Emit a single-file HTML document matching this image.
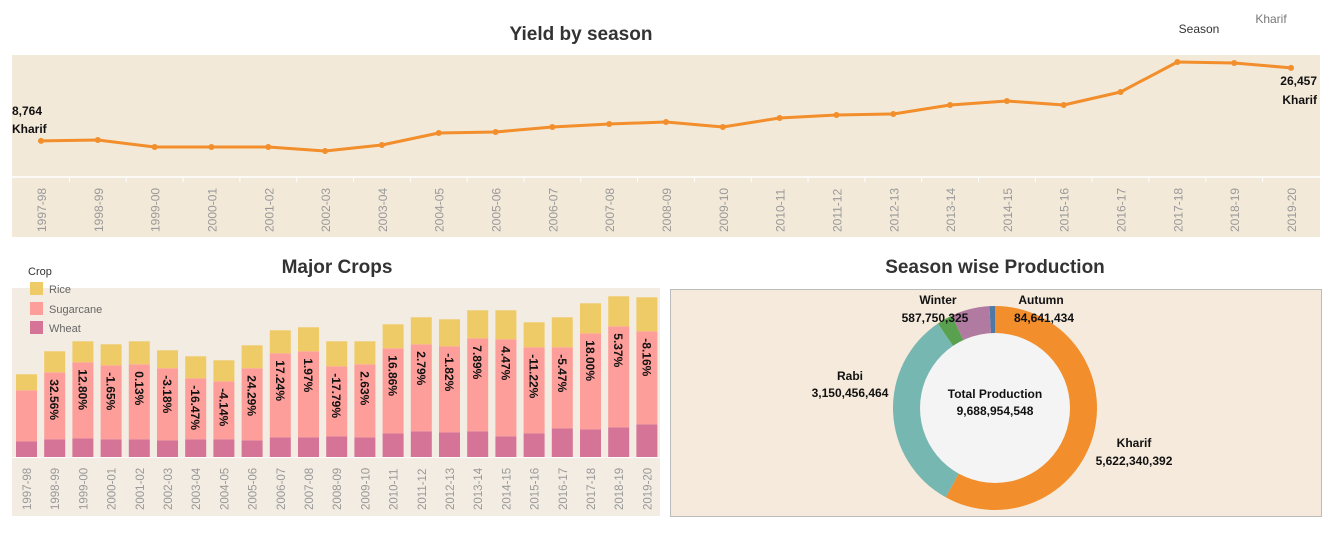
<!DOCTYPE html>
<html><head><meta charset="utf-8"><style>
body{margin:0;width:1330px;height:528px;background:#fff;font-family:"Liberation Sans",sans-serif;overflow:hidden}
svg text{font-family:"Liberation Sans",sans-serif}
</style></head><body>
<svg id="s" width="1330" height="528">
<text x="581" y="40" font-size="19" font-weight="bold" fill="#333" text-anchor="middle">Yield by season</text>
<text x="1199" y="33" font-size="12" fill="#333" text-anchor="middle">Season</text>
<text x="1271" y="23" font-size="12" fill="#777" text-anchor="middle">Kharif</text>
<rect x="12" y="55" width="1308" height="182" fill="#f3e9d9"/>
<line x1="12" y1="177" x2="1320" y2="177" stroke="#fff" stroke-width="1.5"/>
<g id="lineG"></g>
<text x="337" y="273" font-size="19" font-weight="bold" fill="#333" text-anchor="middle">Major Crops</text>
<rect x="12" y="288" width="648" height="228" fill="#f3ece2"/>
<text x="28" y="275" font-size="11" fill="#333">Crop</text>
<rect x="30" y="282" width="13" height="13" fill="#efcb67"/>
<text x="49" y="293" font-size="11" fill="#666">Rice</text>
<rect x="30" y="302" width="13" height="13" fill="#fd9e9a"/>
<text x="49" y="313" font-size="11" fill="#666">Sugarcane</text>
<rect x="30" y="321" width="13" height="13" fill="#d57496"/>
<text x="49" y="332" font-size="11" fill="#666">Wheat</text>
<g id="barG"></g>
<text x="995" y="273" font-size="19" font-weight="bold" fill="#333" text-anchor="middle">Season wise Production</text>
<rect x="670.5" y="289.5" width="651" height="227" fill="#f5eadb" stroke="#bbb"/>
<g id="pieG"></g>
</svg>
<script>
const years=["1997-98","1998-99","1999-00","2000-01","2001-02","2002-03","2003-04","2004-05","2005-06","2006-07","2007-08","2008-09","2009-10","2010-11","2011-12","2012-13","2013-14","2014-15","2015-16","2016-17","2017-18","2018-19","2019-20"];
const yieldVals=[8764,8969,7272,7272,7272,6302,7757,10666,10908,12120,12847,13332,12120,14302,15029,15271,17453,18422,17453,20604,27876,27634,26457];
const wheat=[15.7,17.7,18.7,17.7,17.7,16.7,17.7,17.7,16.7,19.7,19.7,20.7,19.7,23.7,25.7,24.7,25.7,20.7,23.7,28.7,27.7,29.7,32.7];
const sugarcane=[51,67,76,74,75,72,61,58,72,84,86,70,73,85,87,86,93,97,86,81,96,101,93];
const rice=[16,21,21,21,23,18,22,21,23,23,24,25,23,24,27,27,28,29,25,30,30,30,34];
const pctLabels=["","32.56%","12.80%","-1.65%","0.13%","-3.18%","-16.47%","-4.14%","24.29%","17.24%","1.97%","-17.79%","2.63%","16.86%","2.79%","-1.82%","7.89%","4.47%","-11.22%","-5.47%","18.00%","5.37%","-8.16%"];
const seasons=["Autumn","Kharif","Rabi","Summer","Winter"];
const production=[84641434,5622340392,3150456464,243765933,587750325];
const NS="http://www.w3.org/2000/svg";
function mk(t,a,p){const e=document.createElementNS(NS,t);for(const k in a)e.setAttribute(k,a[k]);p.appendChild(e);return e;}
const lg=document.getElementById('lineG');
const lx=i=>41+i*(1250/(years.length-1));
const ly=v=>177-v/242.4;
let d=yieldVals.map((v,i)=>(i?'L':'M')+lx(i)+','+ly(v)).join('');
let p=mk('path',{d:d,fill:'none',stroke:'#f28e2b','stroke-width':3,'stroke-linejoin':'round'},lg);


yieldVals.forEach((v,i)=>{
 const c=mk('circle',{cx:lx(i),cy:ly(v),r:3,fill:'#f28e2b'},lg);
 
 
 const t=mk('text',{transform:`translate(${lx(i)+5},232) rotate(-90)`,'font-size':12,fill:'#999'},lg);t.textContent=years[i];
 
 
 if(i>0){const tk=mk('line',{x1:(lx(i)+lx(i-1))/2,y1:177,x2:(lx(i)+lx(i-1))/2,y2:182,stroke:'#fff'},lg);
 
 }
});
function lbl(x,y,txt,anchor,g,name){const t=mk('text',{x:x,y:y,'font-size':12,'font-weight':'bold',fill:'#111','text-anchor':anchor},g);t.textContent=txt;
 
 }
const n=yieldVals.length-1;
lbl(12,115,yieldVals[0].toLocaleString('en-US'),'start',lg,'first-value-label');
lbl(12,133,'Kharif','start',lg,'first-season-label');
lbl(1317,85,yieldVals[n].toLocaleString('en-US'),'end',lg,'last-value-label');
lbl(1317,104,'Kharif','end',lg,'last-season-label');
const bg=document.getElementById('barG');
const bx=i=>16+i*28.2;const bw=21;const base=457;const bs=1;
years.forEach((yr,i)=>{
 const hw=wheat[i]*bs,hs=sugarcane[i]*bs,hr=rice[i]*bs;
 const w=mk('rect',{x:bx(i),y:base-hw,width:bw,height:hw,fill:'#d57496'},bg);
 
 
 const s=mk('rect',{x:bx(i),y:base-hw-hs,width:bw,height:hs,fill:'#fd9e9a'},bg);
 
 
 const r=mk('rect',{x:bx(i),y:base-hw-hs-hr,width:bw,height:hr,fill:'#efcb67'},bg);
 
 
 if(pctLabels[i]){const ty=base-hw-hs+7;
  const t=mk('text',{transform:`translate(${bx(i)+6},${ty}) rotate(90)`,'font-size':12,'font-weight':'bold',fill:'#111'},bg);t.textContent=pctLabels[i];
  
  }
 const t2=mk('text',{transform:`translate(${bx(i)+15},510) rotate(-90)`,'font-size':11.5,fill:'#999'},bg);t2.textContent=yr;
 
 
});
const ax=mk('line',{x1:12,y1:base+0.5,x2:660,y2:base+0.5,stroke:'#fff'},bg);


const pg=document.getElementById('pieG');
const cx=995,cy=408,R=102,Ri=75;
const colors=["#4e79a7","#f28e2b","#76b7b2","#59a14f","#b07aa1"];
const tot=production.reduce((a,b)=>a+b,0);
let a0=-production[0]/tot*2*Math.PI;
production.forEach((v,i)=>{
 const a1=a0+v/tot*2*Math.PI;
 const P=(r,a)=>[cx+r*Math.sin(a),cy-r*Math.cos(a)];
 const [x0,y0]=P(R,a0),[x1,y1]=P(R,a1),la=(a1-a0)>Math.PI?1:0;
 const sl=mk('path',{d:`M${cx},${cy}L${x0},${y0}A${R},${R} 0 ${la} 1 ${x1},${y1}Z`,fill:colors[i]},pg);
 
 
 a0=a1;
});
const ic=mk('circle',{cx:cx,cy:cy,r:Ri,fill:'#f4f4f4'},pg);


lbl(cx,398,'Total Production','middle',pg,'total-label');
lbl(cx,415,tot.toLocaleString('en-US'),'middle',pg,'total-value');
const fmt=v=>v.toLocaleString('en-US');
lbl(1041,304,'Autumn','middle',pg,'autumn-label');
lbl(1044,322,fmt(production[0]),'middle',pg,'autumn-value');
lbl(938,304,'Winter','middle',pg,'winter-label');
lbl(935,322,fmt(production[4]),'middle',pg,'winter-value');
lbl(850,380,'Rabi','middle',pg,'rabi-label');
lbl(850,397,fmt(production[2]),'middle',pg,'rabi-value');
lbl(1134,447,'Kharif','middle',pg,'kharif-label');
lbl(1134,465,fmt(production[1]),'middle',pg,'kharif-value');
</script>
</body></html>
